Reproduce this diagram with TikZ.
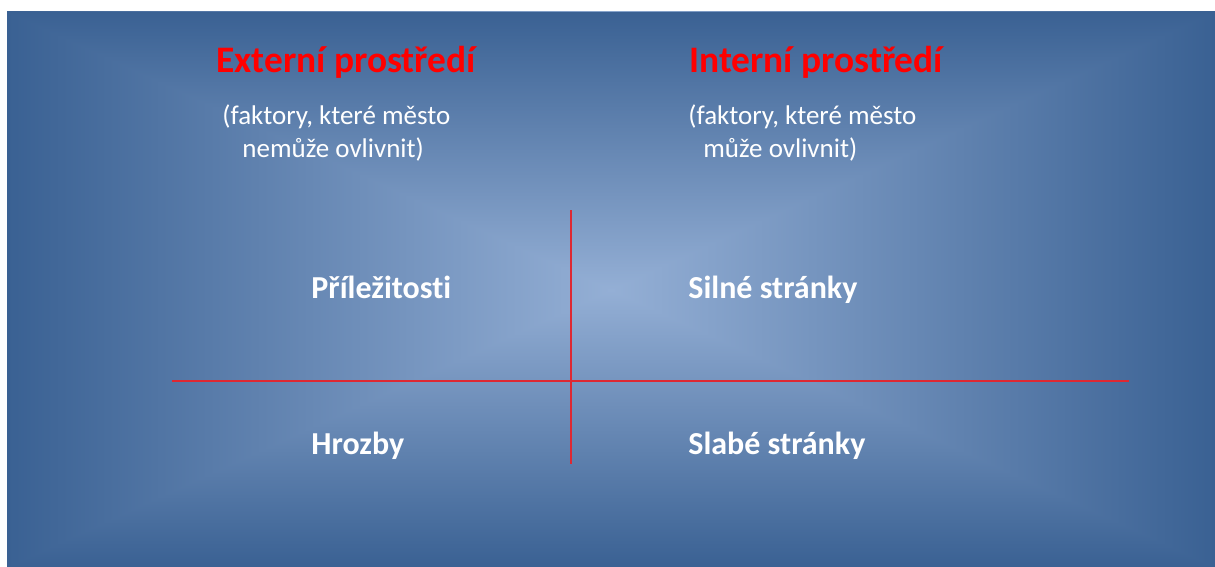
\documentclass[tikz,border=0pt]{standalone}
\usepackage{fontspec}
\setmainfont{Carlito}[Ligatures=NoCommon]
\usetikzlibrary{positioning,calc}
\definecolor{bgedge}{RGB}{58,97,147}
\definecolor{bgcentre}{RGB}{148,175,213}
\definecolor{headred}{RGB}{255,0,0}
\definecolor{axisred}{RGB}{222,40,50}
\tikzset{
  heading/.style ={anchor=base west, inner sep=0pt, text=headred, font=\fontsize{18.7}{22}\selectfont\bfseries},
  note/.style    ={anchor=base west, inner sep=0pt, text=white, font=\fontsize{13.5}{16}\selectfont},
  quad/.style    ={anchor=base west, inner sep=0pt, text=white, font=\fontsize{16}{19}\selectfont\bfseries},
  axis/.style    ={draw=axisred, line width=0.8pt},
}
\begin{document}
\begin{tikzpicture}[x=0.5pt, y=-0.5pt]
\useasboundingbox (0,0) rectangle (1215,567);
% background with rectangular gradient
\coordinate (tl) at (7,12);
\coordinate (tr) at (1215,12);
\coordinate (bl) at (7,567);
\coordinate (br) at (1215,567);
\coordinate (mid) at (611,290);
\shade[left color=bgedge, right color=bgcentre] (tl) rectangle (mid |- bl);
\shade[left color=bgcentre, right color=bgedge] (mid |- tr) rectangle (br);
\shade[top color=bgedge, bottom color=bgcentre] (tl) -- (tr) -- (mid) -- cycle;
\shade[top color=bgcentre, bottom color=bgedge] (bl) -- (br) -- (mid) -- cycle;

% headings
\node[heading] (ext) at (216,73) {Externí prostředí};
\node[heading] (int) at (689,73) {Interní prostředí};
\node[note] (extA) at (222,125) {(faktory, které město};
\node[note] (extB) at (242,157) {nemůže ovlivnit)};
\node[note] (intA) at (688,125) {(faktory, které město};
\node[note] (intB) at (703,157) {může ovlivnit)};

% quadrants
\node[quad] (opp) at (311,298) {Příležitosti};
\node[quad] (str) at (688,298) {Silné stránky};
\node[quad] (thr) at (311,454) {Hrozby};
\node[quad] (wea) at (688,454) {Slabé stránky};

% axes
\coordinate (vtop) at (571,210);
\coordinate (vbot) at (571,464);
\coordinate (hleft) at (172,381);
\coordinate (hright) at (1129,381);
\draw[axis] (vtop) -- (vbot);
\draw[axis] (hleft) -- (hright);
\end{tikzpicture}
\end{document}
